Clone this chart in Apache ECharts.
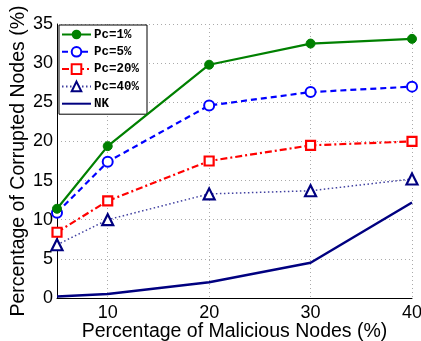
<!DOCTYPE html>
<html><head><meta charset="utf-8">
<script src="https://cdn.jsdelivr.net/npm/echarts@6/dist/echarts.min.js"></script>
<style>html,body{margin:0;padding:0;background:#fff}#c{width:421px;height:341px}</style>
</head><body><div id="c"></div>
<script>
var xValues = [5, 10, 20, 30, 40];
var pc1 = [11.4, 19.4, 29.8, 32.5, 33.1];
var pc5 = [10.9, 17.4, 24.6, 26.3, 27.0];
var pc20 = [8.4, 12.4, 17.5, 19.5, 20.0];
var pc40 = [6.8, 10.0, 13.3, 13.7, 15.2];
var nk = [0.2, 0.5, 2.0, 4.5, 12.2];
var seriesNames = ['Pc=1%', 'Pc=5%', 'Pc=20%', 'Pc=40%', 'NK'];
var xTitle = 'Percentage of Malicious Nodes (%)';
var yTitle = 'Percentage of Corrupted Nodes (%)';

function pairs(v){ return xValues.map(function(x,i){return [x, v[i]];}); }
var chart = echarts.init(document.getElementById('c'), null, {renderer:'canvas'});
var axisFont = {fontFamily:'Liberation Sans', fontSize:18, color:'#000'};
var titleFont = {fontFamily:'Liberation Sans', fontSize:19.5, color:'#000'};
chart.setOption({
  animation:false,
  backgroundColor:'#fff',
  grid:{left:57, right:9, top:24, bottom:43, containLabel:false, outerBoundsMode:'none'},
  xAxis:{type:'value', min:5, max:40, interval:5,
    name:xTitle, nameLocation:'middle', nameGap:24, nameMoveOverlap:false,
    nameTextStyle:titleFont,
    axisLine:{lineStyle:{color:'#000', width:1}},
    axisTick:{show:false},
    axisLabel:Object.assign({margin:6, formatter:function(v){return v%10===0?String(v):'';}}, axisFont),
    splitLine:{show:true, lineStyle:{color:['rgba(0,0,0,0)','#aaa'], type:[1,3], width:1}}
  },
  yAxis:{type:'value', min:0, max:35, interval:5,
    name:yTitle, nameLocation:'middle', nameGap:28, nameMoveOverlap:false,
    nameTextStyle:titleFont,
    axisLine:{show:true, lineStyle:{color:'#000', width:1}},
    axisTick:{show:false},
    axisLabel:Object.assign({margin:4}, axisFont),
    splitLine:{show:true, lineStyle:{color:'#aaa', type:[1,3], width:1}}
  },
  legend:{left:59, top:25, orient:'vertical', itemWidth:29, itemHeight:12, itemGap:4.3,
    padding:[3,8,4,2], borderColor:'#000', borderWidth:1, backgroundColor:'#fff',
    textStyle:{fontFamily:'Liberation Mono', fontWeight:'bold', fontSize:12.5, lineHeight:12, color:'#000', padding:[0,0,0,-2]},
    data:[seriesNames[0], seriesNames[1], seriesNames[2], seriesNames[3],
      {name:seriesNames[4], itemStyle:{opacity:0}}]},
  series:[
    {name:seriesNames[0], type:'line', data:pairs(pc1), symbol:'circle', symbolSize:9,
     lineStyle:{color:'#008000', width:2.2}, itemStyle:{color:'#008000', borderColor:'#008000'}, z:5},
    {name:seriesNames[1], type:'line', data:pairs(pc5), symbol:'emptyCircle', symbolSize:10,
     lineStyle:{color:'#0000ff', width:2.2, type:[6,4]}, itemStyle:{color:'#0000ff', borderColor:'#0000ff', borderWidth:2.2}, z:4},
    {name:seriesNames[2], type:'line', data:pairs(pc20), symbol:'rect', symbolSize:9,
     lineStyle:{color:'#ff0000', width:2.2, type:[7,3,2,3]}, itemStyle:{color:'#fff', borderColor:'#ff0000', borderWidth:2.2}, z:3},
    {name:seriesNames[3], type:'line', data:pairs(pc40), symbol:'triangle', symbolSize:11,
     lineStyle:{color:'#4040a0', width:1.5, type:[1.5,2.5]}, itemStyle:{color:'#fff', borderColor:'#000080', borderWidth:2.2}, z:2},
    {name:seriesNames[4], type:'line', data:pairs(nk), symbol:'none',
     lineStyle:{color:'#000080', width:2.5}, itemStyle:{color:'#000080'}, z:1}
  ]
});
</script></body></html>
